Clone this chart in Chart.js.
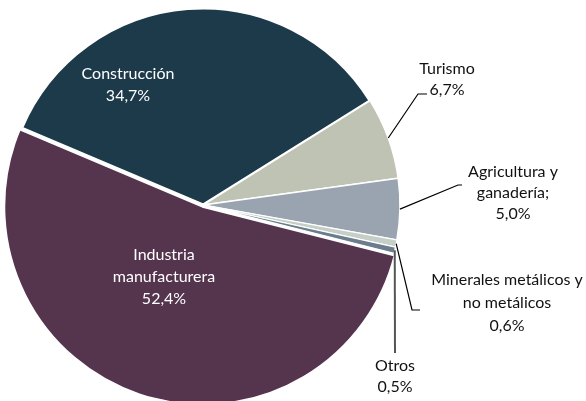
<!DOCTYPE html>
<html>
<head>
<meta charset="utf-8">
<script src="https://cdn.jsdelivr.net/npm/chart.js@4.4.1/dist/chart.umd.min.js"></script>
<style>
  html, body { margin: 0; padding: 0; background: #ffffff; }
  #wrap { position: relative; width: 586px; height: 401px; }
</style>
</head>
<body>
<div id="wrap"><canvas id="c" width="586" height="401"></canvas></div>
<script>
// ---- data ----
const categories = ['Construcción', 'Turismo', 'Agricultura y ganadería', 'Minerales metálicos y no metálicos', 'Otros', 'Industria manufacturera'];
const shares = [34.7, 6.7, 5.0, 0.6, 0.5, 52.4];
const labelLines = [
  ['Construcción'],
  ['Turismo'],
  ['Agricultura y', 'ganadería;'],
  ['Minerales metálicos y', 'no metálicos'],
  ['Otros'],
  ['Industria', 'manufacturera']
];
const sliceColors = ['#1c3a4a', '#bfc3b3', '#9aa4b1', '#c5cfc7', '#6b7d8c', '#55344e'];

function fmt(v) { return v.toFixed(1).replace('.', ','); }

// label placement (relative to pie centre, px)
const labelPlacement = [
  { inside: true, text: [-75, -120] },
  { text: [244, -126], elbow: [215, -111], end: [224, -111], lh: 21 },
  { text: [310, -12], elbow: [255, -20], end: [259, -20], lh: 21 },
  { text: [304, 98], elbow: [209, 105], end: [217, 105], lh: 23 },
  { text: [192, 171], elbow: [192, 148], end: [192, 148], lh: 21, lineColor: '#555555', lineWidth: 2 },
  { inside: true, text: [-39, 72] }
];

const labelPlugin = {
  id: 'sliceLabels',
  afterDatasetsDraw(chart) {
    const ctx = chart.ctx;
    const meta = chart.getDatasetMeta(0);
    ctx.save();
    ctx.font = '16px Lato, "Open Sans", sans-serif';
    ctx.textAlign = 'center';
    ctx.textBaseline = 'middle';
    meta.data.forEach((arc, i) => {
      const p = labelPlacement[i];
      const cx = arc.x, cy = arc.y;
      const lines = labelLines[i].concat([fmt(shares[i]) + '%']);
      const lh = p.lh || 22;
      if (!p.inside) {
        const mid = (arc.startAngle + arc.endAngle) / 2;
        const r = arc.outerRadius;
        const sx = cx + Math.cos(mid) * r;
        const sy = cy + Math.sin(mid) * r;
        ctx.beginPath();
        ctx.strokeStyle = p.lineColor || '#000000';
        ctx.lineWidth = p.lineWidth || 1.2;
        ctx.moveTo(sx, sy);
        ctx.lineTo(cx + p.elbow[0], cy + p.elbow[1]);
        ctx.lineTo(cx + p.end[0], cy + p.end[1]);
        ctx.stroke();
        ctx.fillStyle = '#111111';
      } else {
        ctx.fillStyle = '#ffffff';
      }
      const tx = cx + p.text[0];
      const ty0 = cy + p.text[1] - (lines.length - 1) * lh / 2;
      lines.forEach((ln, k) => ctx.fillText(ln, tx, ty0 + k * lh));
    });
    ctx.restore();
  }
};

new Chart(document.getElementById('c'), {
  type: 'pie',
  data: {
    labels: categories,
    datasets: [{
      data: shares,
      backgroundColor: sliceColors,
      borderColor: '#ffffff',
      borderWidth: [3, 1.5, 1.5, 1.2, 1.2, 2.5],
      offset: [0, 0, 0, 0, 0, 6],
      clip: false
    }]
  },
  options: {
    responsive: false,
    animation: false,
    rotation: -67,
    radius: 197,
    layout: { padding: { left: 0, right: 180, top: 9, bottom: 0 } },
    plugins: { legend: { display: false }, tooltip: { enabled: false } }
  },
  plugins: [labelPlugin]
});
</script>
</body>
</html>
